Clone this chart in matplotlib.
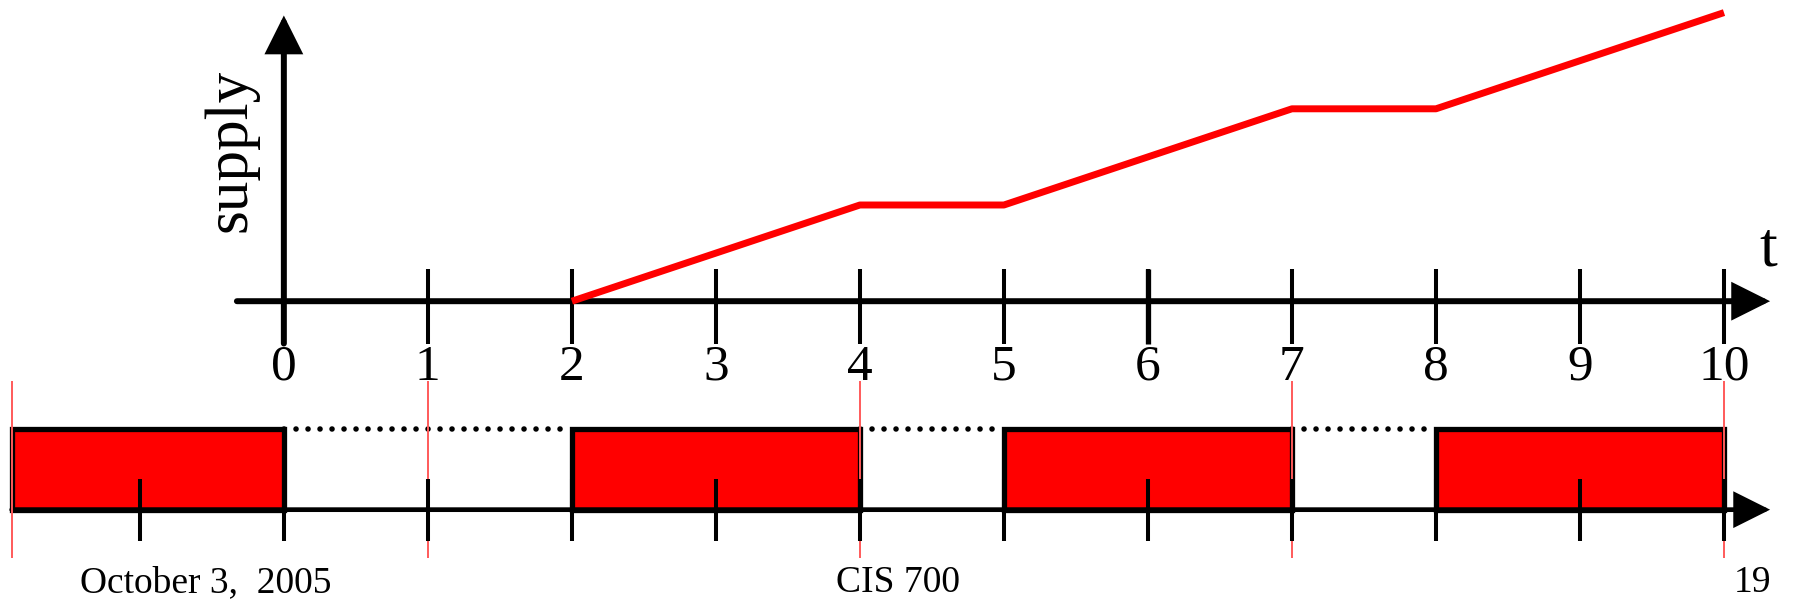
# Supply curve with a periodic resource timeline underneath
import matplotlib.pyplot as plt
import numpy as np

plt.rcParams['font.family'] = ['Liberation Serif', 'DejaVu Serif']

# data
t_ticks = list(range(0, 11))
low_ticks = list(range(-1, 11))
supply_t = [2, 4, 5, 7, 8, 10]
supply_v = [0, 1, 1, 2, 2, 3]
busy_start = [-1.89, 2, 5, 8]
busy_end = [0, 4, 7, 10]
idle_start = [0, 4, 7]
idle_end = [2, 5, 8]
period_marks = [-1.89, 1, 4, 7, 10]
footer = ['October 3,  2005', 'CIS 700', '19']

fig = plt.figure(figsize=(17.95, 5.99), dpi=100)
xlim = (-1.971, 10.493)

# upper chart: supply(t)
ax = fig.add_axes([0, 0.3499, 1, 0.6501])
ax.set_xlim(xlim)
ax.set_ylim(-0.917, 3.131)
ax.axis('off')

arrow = dict(arrowstyle='-|>,head_length=1.0,head_width=0.5', color='black',
             lw=4.3, mutation_scale=21, shrinkA=0, shrinkB=0, joinstyle='miter')
ax.annotate('', xy=(10.32, 0), xytext=(-0.326, 0), arrowprops=arrow)
ax.annotate('', xy=(0, 2.97), xytext=(0, -0.44), arrowprops=arrow)
ax.vlines(t_ticks[1:], -0.44, 0.333, color='black', lw=2.9)
ax.vlines([6], -0.44, 0.333, color='black', lw=3.8)
for t in t_ticks:
    ax.text(t, -0.45, str(t), ha='center', va='top', fontsize=37)
ax.text(10.31, 0.37, 't', ha='center', va='baseline', fontsize=46)
ax.text(-0.37, 1.57, 'supply', rotation=90, ha='center', va='center', fontsize=44)

ax.plot(supply_t, supply_v, color='red', lw=5.0, solid_capstyle='butt', zorder=5)

# lower chart: resource availability
bx = fig.add_axes([0, 0, 1, 0.3786])
bx.set_xlim(xlim)
bx.set_ylim(-1.114, 1.714)
bx.axis('off')

w = np.array(busy_end) - np.array(busy_start)
bx.bar(busy_start, 1, width=w, align='edge', color='red', edgecolor='black',
       lw=3.8, zorder=2)
for a, b in zip(idle_start, idle_end):
    bx.plot([a, b], [1, 1], color='black', lw=4.0, linestyle=(0, (0.01, 2.15)),
            dash_capstyle='round', zorder=2)
bx.annotate('', xy=(10.32, 0), xytext=(-1.89, 0),
            arrowprops=dict(arrow, lw=3.4))
bx.vlines(period_marks, -0.6, 1.6, color='#ff5a5a', lw=1.4, zorder=3)
bx.vlines(low_ticks, -0.386, 0.386, color='black', lw=2.9, zorder=4)

fig.text(0.0446, 0.011, footer[0], ha='left', va='baseline', fontsize=27)
fig.text(0.5, 0.011, footer[1], ha='center', va='baseline', fontsize=27)
fig.text(0.987, 0.011, footer[2], ha='right', va='baseline', fontsize=27)

plt.savefig('out.png', dpi=100)
